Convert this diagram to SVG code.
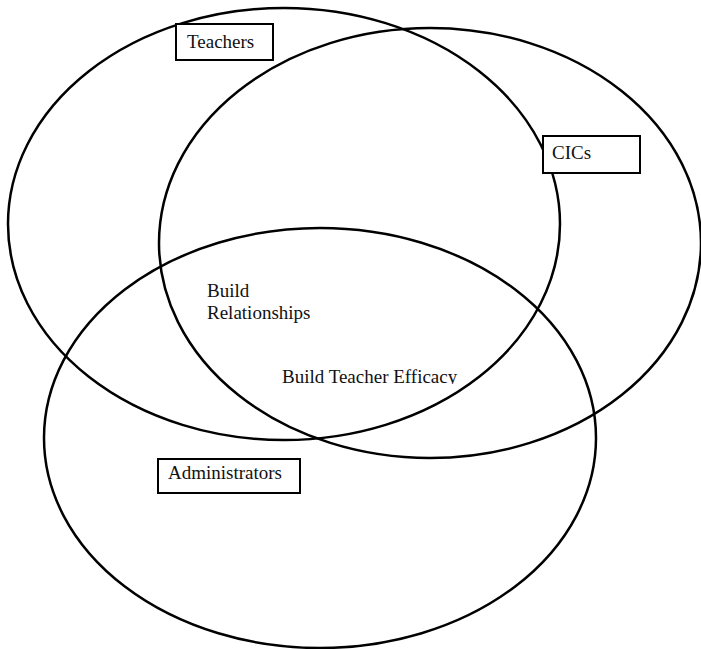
<svg xmlns="http://www.w3.org/2000/svg" width="701" height="649" viewBox="0 0 701 649">
  <style>
    .set { fill: none; stroke: #000; stroke-width: 2.5; }
    .box { fill: #fff; stroke: #000; stroke-width: 2; }
    .lbl { font-family: "Liberation Serif", "DejaVu Serif", "Times New Roman", serif; font-size: 19px; fill: #111; }
  </style>
  <defs>
    <!-- the efficacy label sits in a frame that trims its descenders -->
    <clipPath id="efficacyClip">
      <rect x="270" y="360" width="210" height="24"/>
    </clipPath>
  </defs>
  <rect width="701" height="649" fill="#fff"/>
  <g id="sets">
    <ellipse id="teachers-set" class="set" cx="284" cy="224" rx="276" ry="216"/>
    <ellipse id="cics-set" class="set" cx="430" cy="243" rx="271" ry="215"/>
    <ellipse id="administrators-set" class="set" cx="320" cy="438" rx="276" ry="210"/>
  </g>
  <g id="teachers">
    <rect class="box" x="176" y="24" width="97" height="36"/>
    <text class="lbl" x="187" y="48">Teachers</text>
  </g>
  <g id="cics">
    <rect class="box" x="543" y="136" width="97" height="37"/>
    <text class="lbl" x="552" y="159">CICs</text>
  </g>
  <g id="administrators">
    <rect class="box" x="158" y="459" width="142" height="34"/>
    <text class="lbl" x="168" y="479">Administrators</text>
  </g>
  <g id="build-relationships">
    <text class="lbl" x="207" y="297">Build</text>
    <text class="lbl" x="207" y="319">Relationships</text>
  </g>
  <g id="build-teacher-efficacy">
    <text class="lbl" x="282" y="383" clip-path="url(#efficacyClip)">Build Teacher Efficacy</text>
  </g>
</svg>
